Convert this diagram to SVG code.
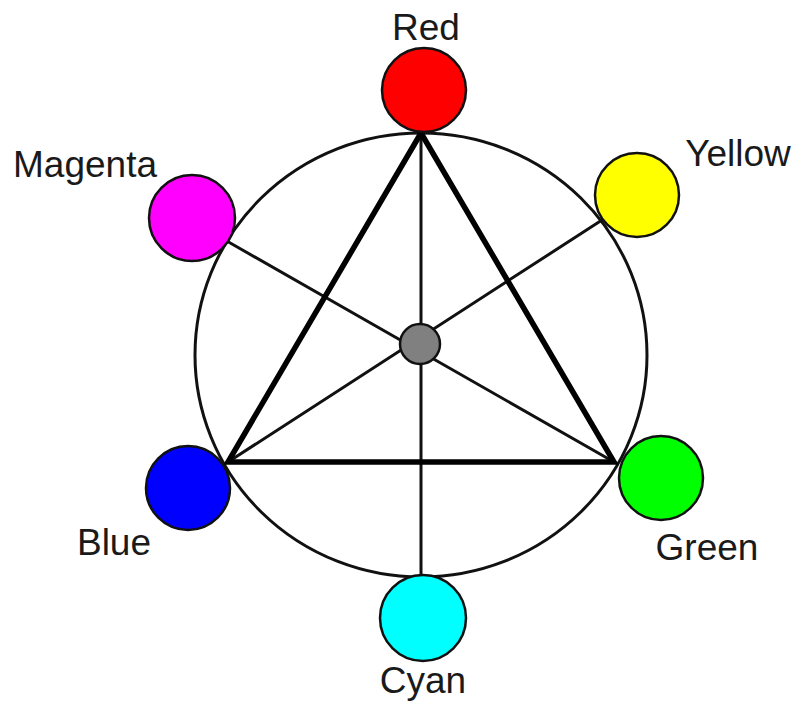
<svg xmlns="http://www.w3.org/2000/svg" width="794" height="701" viewBox="0 0 794 701">
<style>
.thin{stroke:#111;stroke-width:3;fill:none;stroke-linecap:round}
.thick{stroke:#000;stroke-width:5.5;fill:none;stroke-linejoin:miter;stroke-linecap:round}
.node{stroke:#111;stroke-width:2.5}
.lbl{font-family:"Liberation Sans",Arial,sans-serif;font-size:37px;fill:#1a1a1a;text-anchor:middle}
</style>
<rect width="794" height="701" fill="#fff"/>
<g id="connectors">
<ellipse class="thin" cx="421" cy="355" rx="226" ry="222" stroke-width="2.5"/>
<line class="thin" x1="421" y1="133" x2="421" y2="577"/>
<line class="thin" x1="225" y1="240" x2="614" y2="462"/>
<line class="thin" x1="602" y1="220" x2="228" y2="462"/>
<polygon class="thick" points="421,133 228,462 614,462"/>
</g>
<g id="center"><circle class="node" cx="420" cy="344" r="20" fill="#808080"/></g>
<g id="red"><circle class="node" cx="424" cy="90" r="42" fill="#ff0000"/><text class="lbl" x="426" y="40">Red</text></g>
<g id="magenta"><circle class="node" cx="192" cy="218" r="43" fill="#ff00ff"/><text class="lbl" x="85" y="177">Magenta</text></g>
<g id="yellow"><circle class="node" cx="637" cy="195" r="42" fill="#ffff00"/><text class="lbl" x="738" y="166">Yellow</text></g>
<g id="blue"><circle class="node" cx="188" cy="488" r="42" fill="#0000ff"/><text class="lbl" x="114" y="555">Blue</text></g>
<g id="green"><circle class="node" cx="661" cy="478" r="42" fill="#00ff00"/><text class="lbl" x="707" y="560">Green</text></g>
<g id="cyan"><circle class="node" cx="423" cy="618" r="43" fill="#00ffff"/><text class="lbl" x="423" y="693">Cyan</text></g>
</svg>
